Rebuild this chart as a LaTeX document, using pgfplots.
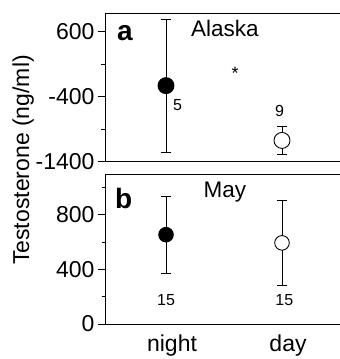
\documentclass[border=0pt]{standalone}
\usepackage{fontspec}
\setmainfont{Liberation Sans}
\usepackage{pgfplots}
\pgfplotsset{compat=1.18}
\begin{document}
\begin{tikzpicture}
\useasboundingbox (0pt,0pt) rectangle (340pt,359pt);
\pgfplotsset{
  panel/.style={
    scale only axis, width=235pt,
    xmin=-0.526, xmax=1.5,
    axis y line*=left, axis x line*=box,
    axis line style={line width=0.9pt},
    tick align=outside, major tick length=7pt, minor tick length=3.5pt,
    every tick/.style={black, line width=0.9pt},
    xtick style={draw=none},
    tick label style={font=\fontsize{23}{26}\selectfont},
    xticklabel style={xshift=6pt},
    /pgf/number format/assume math mode=true,
    /pgf/number format/1000 sep={},
    clip=false,
  },
  pt/.style={black, only marks, mark=*, line width=0.9pt,
    error bars/y dir=both, error bars/y explicit,
    error bars/error bar style={line width=0.9pt},
    error bars/error mark options={rotate=90, mark size=5pt, line width=0.9pt}},
}
% panel a
\begin{axis}[panel, at={(105pt,197.5pt)}, anchor=south west, height=148.5pt,
  ymin=-1400, ymax=890, ytick={-1400,-400,600}, minor ytick={-900,100},
  xtick=\empty]
\addplot[pt, mark size=8pt, mark options={fill=black}] coordinates {(0,-230) +- (0,1025)};
\addplot[pt, mark size=8pt, mark options={fill=white}] coordinates {(1,-1075) +- (0,210)};
\node[font=\fontsize{16}{18}\selectfont] at (axis cs:0.10,-523) {5};
\node[font=\fontsize{16}{18}\selectfont] at (axis cs:0.98,-615) {9};
\node[font=\fontsize{18}{20}\selectfont, anchor=north, inner sep=0pt] at (axis cs:0.595,62) {*};
\node[font=\fontsize{28}{30}\selectfont\bfseries, anchor=base, inner sep=0pt] at (rel axis cs:0.085,0.818) {a};
\node[font=\fontsize{22.5}{25}\selectfont, anchor=base, inner sep=0pt] at (rel axis cs:0.51,0.845) {Alaska};
\end{axis}
% panel b
\begin{axis}[panel, at={(105pt,35pt)}, anchor=south west, height=150pt,
  ymin=0, ymax=1100, ytick={0,400,800}, minor ytick={200,600,1000},
  xtick={0,1}, xticklabels={night,day}]
\addplot[pt, mark size=7.3pt, mark options={fill=black}] coordinates {(0,655) +- (0,283)};
\addplot[pt, mark size=7.3pt, mark options={fill=white}] coordinates {(1,595) +- (0,310)};
\node[font=\fontsize{16}{18}\selectfont] at (axis cs:0,176) {15};
\node[font=\fontsize{16}{18}\selectfont] at (axis cs:1.02,176) {15};
\node[font=\fontsize{28}{30}\selectfont\bfseries, anchor=base, inner sep=0pt] at (rel axis cs:0.08,0.773) {b};
\node[font=\fontsize{22.5}{25}\selectfont, anchor=base, inner sep=0pt] at (rel axis cs:0.51,0.84) {May};
\end{axis}
\node[rotate=90, anchor=base, font=\fontsize{23}{26}\selectfont] at (29pt,199pt) {Testosterone (ng/ml)};
\end{tikzpicture}
\end{document}
